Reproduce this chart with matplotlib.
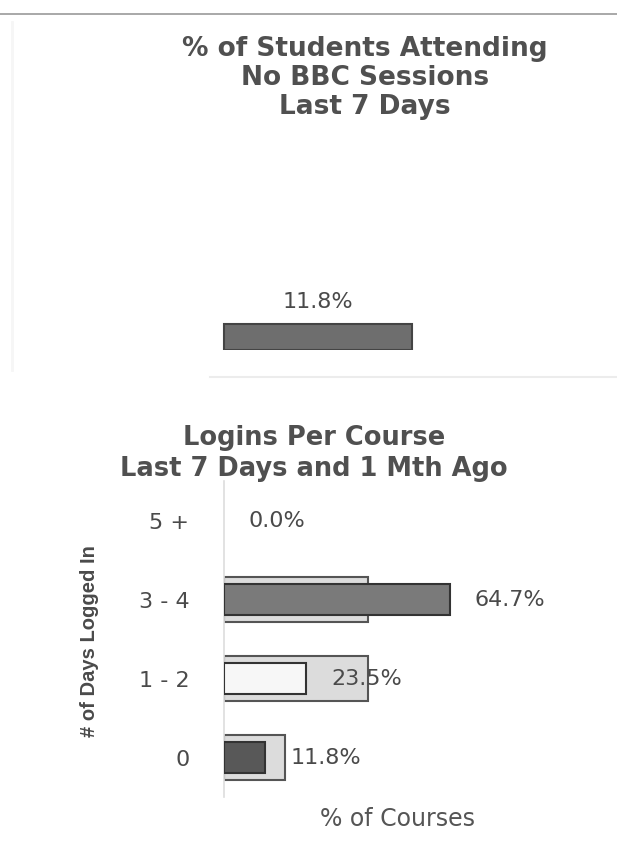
import matplotlib
matplotlib.use("Agg")
import matplotlib.pyplot as plt

# ---- data ----
top_title = "% of Students Attending\nNo BBC Sessions\nLast 7 Days"
top_value = [11.8]

bottom_title = "Logins Per Course\nLast 7 Days and 1 Mth Ago"
categories = ["0", "1 - 2", "3 - 4", "5 +"]
last_7_days = [11.8, 23.5, 64.7, 0.0]
one_month_ago = [17.6, 41.2, 41.2, 0.0]
x_label = "% of Courses"
y_label = "# of Days Logged In"

W, H = 617, 855
fig = plt.figure(figsize=(W / 100, H / 100), dpi=100)
fig.patch.set_facecolor("white")

def px_axes(left, top, right, bottom):
    return fig.add_axes([left / W, 1 - bottom / H, (right - left) / W, (bottom - top) / H])

txt = "#4a4a4a"

# decorative frame lines (scanned page look)
fig.add_artist(plt.Line2D([0, 1], [1 - 14 / H, 1 - 14 / H], color="#9a9a9a", lw=1.2))
fig.add_artist(plt.Line2D([210 / W, 1], [1 - 377 / H, 1 - 377 / H], color="#ececec", lw=1.5))
fig.add_artist(plt.Line2D([12 / W, 12 / W], [1 - 370 / H, 1 - 22 / H], color="#f6f6f6", lw=2))

# ---- top chart: single column ----
ax1 = px_axes(130, 130, 506, 350)
ax1.bar([0], [v / 100 for v in top_value], width=0.5, color="#6e6e6e",
        edgecolor="#444444", linewidth=1.5)
ax1.set_xlim(-0.5, 0.5)
ax1.set_ylim(0, 1)
ax1.axis("off")
for i, v in enumerate(top_value):
    ax1.annotate(f"{v:.1f}%", (i, v / 100), xytext=(0, 16), textcoords="offset points",
                 ha="center", va="center", fontsize=16, color=txt)
fig.text(365 / W, 1 - 78 / H, top_title, ha="center", va="center",
         fontsize=19, fontweight="bold", color="#505050", linespacing=1.15)

# ---- bottom chart: overlapping horizontal bars ----
ax2 = px_axes(224, 481, 600, 797)
ypos = list(range(len(categories)))
outer_lw = [1.5 if v > 0 else 0 for v in one_month_ago]
inner_lw = [1.5 if v > 0 else 0 for v in last_7_days]
ax2.barh(ypos, one_month_ago, height=0.57, color="#dcdcdc", edgecolor="#555555",
         linewidth=outer_lw, zorder=2)
inner_colors = ["#585858", "#f7f7f7", "#7a7a7a", "#7a7a7a"]
ax2.barh(ypos, last_7_days, height=0.39, color=inner_colors, edgecolor="#333333",
         linewidth=inner_lw, zorder=3)
ax2.set_xlim(0, 376 / 3.49)
ax2.set_ylim(-0.5, len(categories) - 0.5)
ax2.set_yticks(ypos)
ax2.set_yticklabels(categories, fontsize=16, color=txt)
ax2.tick_params(axis="y", length=0, pad=25)
ax2.set_xticks([])
for s in ["top", "right", "bottom"]:
    ax2.spines[s].set_visible(False)
ax2.spines["left"].set_color("#dddddd")
ax2.spines["left"].set_linewidth(1.2)
for y, v in zip(ypos, last_7_days):
    ax2.annotate(f"{v:.1f}%", (v, y), xytext=(18, 0), textcoords="offset points",
                 ha="left", va="center", fontsize=16, color=txt, zorder=4)

fig.text(314 / W, 1 - 453 / H, bottom_title, ha="center", va="center",
         fontsize=18.5, fontweight="bold", color="#505050", linespacing=1.25)
fig.text(397 / W, 1 - 819 / H, x_label, ha="center", va="center",
         fontsize=17, color="#555555")
fig.text(90 / W, 1 - 641 / H, y_label, ha="center", va="center", rotation=90,
         fontsize=14.5, fontweight="bold", color="#4a4a4a",
         family=["Liberation Sans", "DejaVu Sans"])

fig.savefig("out.png", dpi=100)
